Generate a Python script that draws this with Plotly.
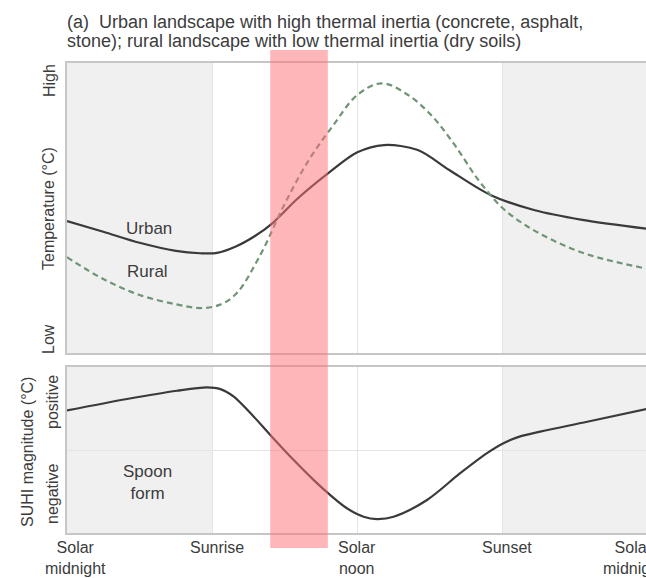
import plotly.graph_objects as go

# Diurnal cycle, hours after solar midnight
urban_hours = [0, 1.5, 3, 4.5, 5.5, 6.2, 7, 7.8, 8.5, 9.5, 10.8, 12, 13.1, 14.5, 15.8, 17.5, 19.3, 21.3, 24]
urban_temp = [4.55, 4.18, 3.8, 3.52, 3.44, 3.45, 3.68, 4.05, 4.48, 5.3, 6.2, 6.92, 7.17, 7.0, 6.31, 5.45, 4.93, 4.59, 4.28]

rural_hours = [0, 1.5, 3, 4.5, 5.5, 6.3, 7, 8, 9, 10, 11, 12, 13, 14, 15, 16, 17, 18, 19, 20, 21, 22, 23, 24]
rural_temp = [3.3, 2.55, 2.0, 1.68, 1.55, 1.66, 2.05, 3.4, 5.15, 6.66, 7.85, 8.9, 9.3, 8.95, 8.25, 7.2, 5.97, 5.0, 4.38, 3.92, 3.55, 3.28, 3.08, 2.9]

suhi_hours = [0, 2.48, 4.55, 5.79, 6.34, 6.88, 7.71, 8.4, 9.36, 10.19, 10.79, 11.57, 12.26, 12.81, 13.5, 14.88, 16.25, 17.36, 18.1, 18.73, 19.6, 21.5, 24]
suhi_value = [2.38, 3.07, 3.57, 3.77, 3.67, 3.23, 2.02, 0.91, -0.59, -1.8, -2.6, -3.51, -4.02, -4.16, -4.02, -3.01, -1.4, -0.19, 0.45, 0.82, 1.12, 1.7, 2.48]

tick_hours = [0.37, 6.2, 12.0, 18.2, 23.4]
tick_labels = ["Solar<br>midnight", "Sunrise", "Solar<br>noon", "Sunset", "Solar<br>midnight"]

night_spans = [(0, 6), (18, 24)]
highlight_span = (8.4, 10.78)

W, H = 646, 578
ML, MR, MT, MB = 67, 0, 63, 45
PW, PH = W - ML - MR, H - MT - MB


def px(xp):
    return (xp - ML) / PW


def py(yp):
    return (H - MB - yp) / PH


FONT = "Liberation Sans, Arial, sans-serif"
TXT = "#3c3c3c"
FRAME = "#c6c6c6"
GRID = "#e4e4e4"
NIGHT = "#f1f0f1"

fig = go.Figure()

fig.add_trace(go.Scatter(x=urban_hours, y=urban_temp, mode="lines",
                         line=dict(color="#3a3a3a", width=2.2, shape="spline", smoothing=0.9),
                         xaxis="x", yaxis="y", hoverinfo="skip"))
fig.add_trace(go.Scatter(x=rural_hours, y=rural_temp, mode="lines",
                         line=dict(color="#6f9476", width=2.2, dash="6px,4px", shape="spline", smoothing=1.0),
                         xaxis="x", yaxis="y", hoverinfo="skip"))
fig.add_trace(go.Scatter(x=suhi_hours, y=suhi_value, mode="lines",
                         line=dict(color="#3a3a3a", width=2.2, shape="spline", smoothing=0.9),
                         xaxis="x2", yaxis="y2", hoverinfo="skip"))

shapes = []
for a, b in night_spans:
    for xr, yr in (("x", "y domain"), ("x2", "y2 domain")):
        shapes.append(dict(type="rect", xref=xr, yref=yr, x0=a, x1=b, y0=0, y1=1,
                           fillcolor=NIGHT, line=dict(width=0), layer="below"))
shapes.append(dict(type="rect", xref="x", yref="paper", x0=highlight_span[0], x1=highlight_span[1],
                   y0=py(50), y1=py(548), fillcolor="rgba(255,110,115,0.5)",
                   line=dict(width=0), layer="above"))

axis_common = dict(range=[0, 23.93], tickvals=[6, 12, 18], showticklabels=False, ticks="",
                   showgrid=True, gridcolor=GRID, gridwidth=1, zeroline=False,
                   showline=True, linecolor=FRAME, linewidth=2, mirror=True)

annotations = []
annotations.append(dict(text="(a)  Urban landscape with high thermal inertia (concrete, asphalt,",
                        xref="paper", yref="paper", x=px(65), y=py(22), xanchor="left", yanchor="middle",
                        showarrow=False, font=dict(family=FONT, size=18, color=TXT)))
annotations.append(dict(text="stone); rural landscape with low thermal inertia (dry soils)",
                        xref="paper", yref="paper", x=px(65), y=py(41), xanchor="left", yanchor="middle",
                        showarrow=False, font=dict(family=FONT, size=18, color=TXT)))

# rotated axis captions
for text, xp, yp in [("High", 49, 81), ("Temperature (°C)", 48, 209), ("Low", 48, 339),
                     ("positive", 52, 402), ("negative", 52, 494), ("SUHI magnitude (°C)", 27, 452)]:
    annotations.append(dict(text=text, xref="paper", yref="paper", x=px(xp), y=py(yp),
                            xanchor="center", yanchor="middle", textangle=-90, showarrow=False,
                            font=dict(family=FONT, size=16, color=TXT)))

# in-plot labels
for text, xp, yp in [("Urban", 149, 229), ("Rural", 147, 271), ("Spoon<br>form", 147, 482)]:
    annotations.append(dict(text=text, xref="paper", yref="paper", x=px(xp), y=py(yp),
                            xanchor="center", yanchor="middle", showarrow=False,
                            font=dict(family=FONT, size=17, color=TXT)))

# time-of-day labels
for h, label in zip(tick_hours, tick_labels):
    annotations.append(dict(text=label, xref="x2", yref="paper", x=h, y=py(537),
                            xanchor="center", yanchor="top", showarrow=False,
                            font=dict(family=FONT, size=16, color=TXT)))

fig.update_layout(
    width=W, height=H,
    margin=dict(l=ML, r=MR, t=MT, b=MB),
    paper_bgcolor="white", plot_bgcolor="white",
    showlegend=False,
    xaxis=dict(domain=[0, 1], anchor="y", **axis_common),
    xaxis2=dict(domain=[0, 1], anchor="y2", **axis_common),
    yaxis=dict(domain=[py(353), 1], anchor="x", range=[0, 10], showticklabels=False, ticks="",
               showgrid=False, zeroline=False, showline=True, linecolor=FRAME, linewidth=2, mirror=False),
    yaxis2=dict(domain=[0, py(367)], anchor="x2", range=[-5, 5], tickvals=[0], showticklabels=False,
                ticks="", showgrid=True, gridcolor=GRID, gridwidth=1, zeroline=False,
                showline=True, linecolor=FRAME, linewidth=2, mirror=False),
    shapes=shapes,
    annotations=annotations,
)

fig.write_html("out.html")
